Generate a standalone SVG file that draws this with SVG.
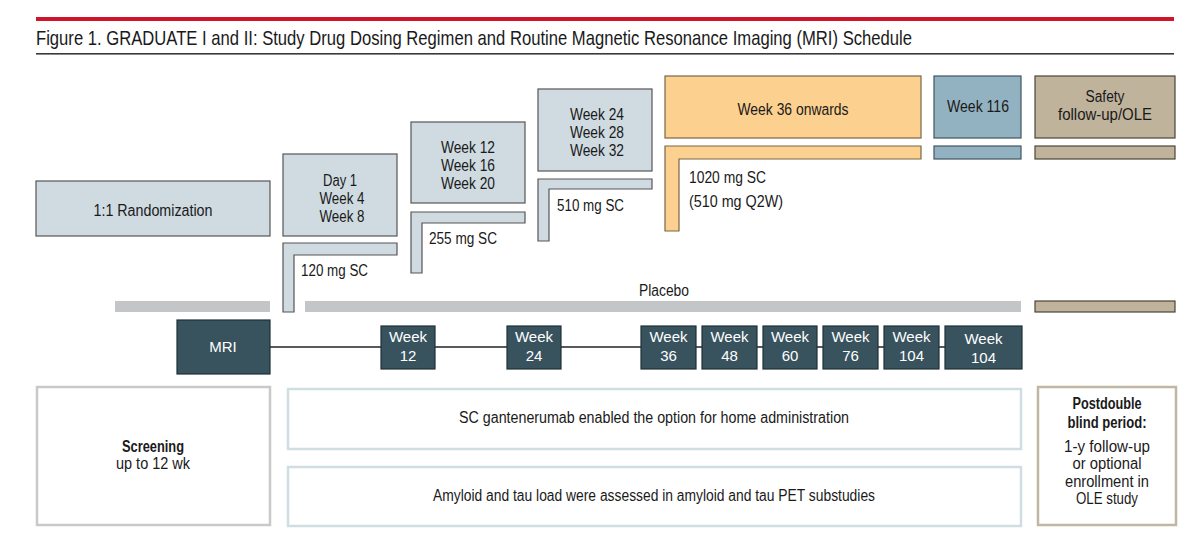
<svg xmlns="http://www.w3.org/2000/svg" width="1200" height="543" viewBox="0 0 1200 543">
<style>
text{font-family:"Liberation Sans",Arial,sans-serif;fill:#1a1a1a}
.t{font-size:16px}
.c{text-anchor:middle}
.b{font-weight:bold}
.lb{fill:#cfdbe1;stroke:#555;stroke-width:1.2}
.or{fill:#fcd08f;stroke:#7a6646;stroke-width:1.2}
.bl{fill:#93b2c1;stroke:#3e5561;stroke-width:1.2}
.tn{fill:#bfb39c;stroke:#4b443a;stroke-width:1.2}
.pl{fill:#c4c5c7}
.mr{fill:#38535e;stroke:#1f3139;stroke-width:1.2}
.mt{font-size:15px;fill:#fff;text-anchor:middle}
.fr{fill:#fff;stroke-width:2.5}
</style>
<rect width="1200" height="543" fill="#fff"/>
<g id="header">
<rect x="36" y="17" width="1138" height="4" fill="#d0142c"/>
<text x="36" y="45" style="font-size:21px" textLength="876" lengthAdjust="spacingAndGlyphs">Figure 1. GRADUATE I and II: Study Drug Dosing Regimen and Routine Magnetic Resonance Imaging (MRI) Schedule</text>
<rect x="36" y="53" width="1138" height="1.6" fill="#3a3a3a"/>
</g>
<g id="connectors">
<line x1="270" y1="347" x2="945" y2="347" stroke="#222" stroke-width="1.5"/>
</g>
<g id="randomization">
<rect class="lb" x="36" y="181" width="234" height="55"/>
<text class="t c" x="153" y="216" textLength="119" lengthAdjust="spacingAndGlyphs">1:1 Randomization</text>
</g>
<g id="dose120">
<rect class="lb" x="283" y="154" width="114" height="82"/>
<text class="t c" x="340" y="186" textLength="34" lengthAdjust="spacingAndGlyphs">Day 1</text>
<text class="t c" x="342" y="204" textLength="45" lengthAdjust="spacingAndGlyphs">Week 4</text>
<text class="t c" x="342" y="222" textLength="45" lengthAdjust="spacingAndGlyphs">Week 8</text>
<path class="lb" d="M283,243H397V255H294V312H283Z"/>
<text class="t" x="301" y="276" textLength="67" lengthAdjust="spacingAndGlyphs">120 mg SC</text>
</g>
<g id="dose255">
<rect class="lb" x="411" y="122" width="114" height="81"/>
<text class="t c" x="468" y="153" textLength="54" lengthAdjust="spacingAndGlyphs">Week 12</text>
<text class="t c" x="468" y="171" textLength="54" lengthAdjust="spacingAndGlyphs">Week 16</text>
<text class="t c" x="468" y="189" textLength="54" lengthAdjust="spacingAndGlyphs">Week 20</text>
<path class="lb" d="M411,212H525V223H422V273H411Z"/>
<text class="t" x="429" y="244" textLength="68" lengthAdjust="spacingAndGlyphs">255 mg SC</text>
</g>
<g id="dose510">
<rect class="lb" x="538" y="89" width="114" height="82"/>
<text class="t c" x="597" y="120" textLength="54" lengthAdjust="spacingAndGlyphs">Week 24</text>
<text class="t c" x="597" y="138" textLength="54" lengthAdjust="spacingAndGlyphs">Week 28</text>
<text class="t c" x="597" y="156" textLength="54" lengthAdjust="spacingAndGlyphs">Week 32</text>
<path class="lb" d="M538,179H652V189H549V241H538Z"/>
<text class="t" x="557" y="211" textLength="67" lengthAdjust="spacingAndGlyphs">510 mg SC</text>
</g>
<g id="dose1020">
<rect class="or" x="665" y="76" width="256" height="62"/>
<text class="t c" x="793" y="115" textLength="111" lengthAdjust="spacingAndGlyphs">Week 36 onwards</text>
<path class="or" d="M665,146H921V159H679V231H665Z"/>
<text class="t" x="689" y="183" textLength="77" lengthAdjust="spacingAndGlyphs">1020 mg SC</text>
<text class="t" x="689" y="207" textLength="94" lengthAdjust="spacingAndGlyphs">(510 mg Q2W)</text>
</g>
<g id="week116">
<rect class="bl" x="934" y="76" width="87" height="62"/>
<text class="t c" x="978" y="112" textLength="62" lengthAdjust="spacingAndGlyphs">Week 116</text>
<rect class="bl" x="934" y="146" width="87" height="13"/>
</g>
<g id="safety">
<rect class="tn" x="1035" y="76" width="140" height="62"/>
<text class="t c" x="1105" y="102" textLength="39" lengthAdjust="spacingAndGlyphs">Safety</text>
<text class="t c" x="1105" y="120" textLength="94" lengthAdjust="spacingAndGlyphs">follow-up/OLE</text>
<rect class="tn" x="1035" y="146" width="140" height="13"/>
<rect class="tn" x="1035" y="301" width="140" height="11"/>
</g>
<g id="placebo">
<rect class="pl" x="115" y="301" width="155" height="11"/>
<rect class="pl" x="305" y="301" width="716" height="11"/>
<text class="t c" x="664" y="296" textLength="50" lengthAdjust="spacingAndGlyphs">Placebo</text>
</g>
<g id="mri">
<rect class="mr" x="177" y="320" width="93" height="54"/>
<text class="mt" x="223" y="352" font-size="16">MRI</text>
</g>
<g id="mri12"><rect class="mr" x="381" y="326" width="54" height="43"/><text class="mt" x="408" y="342">Week</text><text class="mt" x="408" y="361">12</text></g>
<g id="mri24"><rect class="mr" x="507" y="326" width="54" height="43"/><text class="mt" x="534" y="342">Week</text><text class="mt" x="534" y="361">24</text></g>
<g id="mri36"><rect class="mr" x="641" y="326" width="55" height="43"/><text class="mt" x="668.5" y="342">Week</text><text class="mt" x="668.5" y="361">36</text></g>
<g id="mri48"><rect class="mr" x="702" y="326" width="55" height="43"/><text class="mt" x="729.5" y="342">Week</text><text class="mt" x="729.5" y="361">48</text></g>
<g id="mri60"><rect class="mr" x="763" y="326" width="54" height="43"/><text class="mt" x="790" y="342">Week</text><text class="mt" x="790" y="361">60</text></g>
<g id="mri76"><rect class="mr" x="823" y="326" width="55" height="43"/><text class="mt" x="850.5" y="342">Week</text><text class="mt" x="850.5" y="361">76</text></g>
<g id="mri104a"><rect class="mr" x="884" y="326" width="55" height="43"/><text class="mt" x="911.5" y="342">Week</text><text class="mt" x="911.5" y="361">104</text></g>
<g id="mri104b"><rect class="mr" x="945" y="326" width="77" height="43"/><text class="mt" x="983.5" y="344">Week</text><text class="mt" x="983.5" y="363">104</text></g>
<g id="screening">
<rect class="fr" x="37" y="387" width="233" height="138" stroke="#c9c9c9"/>
<text class="t c b" x="153" y="452" textLength="62" lengthAdjust="spacingAndGlyphs">Screening</text>
<text class="t c" x="153" y="469" textLength="74" lengthAdjust="spacingAndGlyphs">up to 12 wk</text>
</g>
<g id="home">
<rect class="fr" x="288" y="389" width="733" height="60" stroke="#d0dde3"/>
<text class="t c" x="654" y="423" textLength="390" lengthAdjust="spacingAndGlyphs">SC gantenerumab enabled the option for home administration</text>
</g>
<g id="pet">
<rect class="fr" x="288" y="467" width="733" height="59" stroke="#d0dde3"/>
<text class="t c" x="654" y="501" textLength="442" lengthAdjust="spacingAndGlyphs">Amyloid and tau load were assessed in amyloid and tau PET substudies</text>
</g>
<g id="postdouble">
<rect class="fr" x="1038" y="387" width="138" height="138" stroke="#c0b6a1" stroke-width="3"/>
<text class="t c b" x="1107" y="409" textLength="69" lengthAdjust="spacingAndGlyphs">Postdouble</text>
<text class="t c b" x="1107" y="428" textLength="79" lengthAdjust="spacingAndGlyphs">blind period:</text>
<text class="t c" x="1107" y="452" textLength="86" lengthAdjust="spacingAndGlyphs">1-y follow-up</text>
<text class="t c" x="1107" y="469" textLength="69" lengthAdjust="spacingAndGlyphs">or optional</text>
<text class="t c" x="1107" y="487" textLength="84" lengthAdjust="spacingAndGlyphs">enrollment in</text>
<text class="t c" x="1107" y="504" textLength="62" lengthAdjust="spacingAndGlyphs">OLE study</text>
</g>
</svg>
